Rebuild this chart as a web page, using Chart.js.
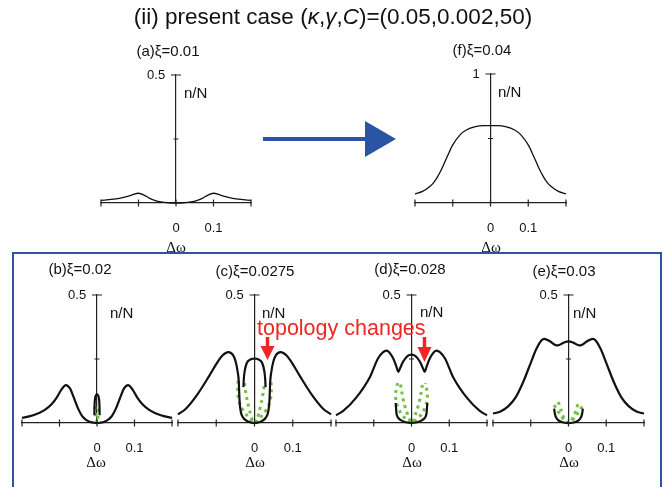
<!DOCTYPE html>
<html>
<head>
<meta charset="utf-8">
<script src="https://cdn.jsdelivr.net/npm/chart.js@4.4.1/dist/chart.umd.min.js"></script>
<style>
  html, body { margin: 0; padding: 0; background: #fff; }
  #page { position: relative; width: 666px; height: 487px; overflow: hidden; font-family: "Liberation Sans", Arial, sans-serif; color: #111; }
  #page canvas { position: absolute; left: 0; top: 0; }
  .lbl { position: absolute; white-space: nowrap; transform: translate(-50%, -50%); }
  .ttl { font-size: 15px; }
  .nn { font-size: 15px; transform: translate(0, -50%); }
  .dw { font-family: "Liberation Serif", "Times New Roman", serif; font-size: 15px; }
  #main { font-size: 22.5px; left: 333px; top: 17px; }
  #topo { font-size: 21.5px; color: #ee2626; left: 257px; top: 328px; transform: translate(0, -50%); }
  svg { position: absolute; left: 0; top: 0; }
</style>
</head>
<body>
<div id="page">
  <canvas id="pa" width="666" height="487"></canvas>
  <canvas id="pf" width="666" height="487"></canvas>
  <canvas id="pb" width="666" height="487"></canvas>
  <canvas id="pc" width="666" height="487"></canvas>
  <canvas id="pd" width="666" height="487"></canvas>
  <canvas id="pe" width="666" height="487"></canvas>

  <svg width="666" height="487">
    <!-- frame round the lower row -->
    <rect x="13" y="253" width="648" height="260" fill="none" stroke="#2a55a5" stroke-width="2"/>
    <!-- big arrow a -> f -->
    <line x1="263" y1="139" x2="367" y2="139" stroke="#2a55a5" stroke-width="4"/>
    <polygon points="365,121 396,139 365,157" fill="#2a55a5"/>
    <!-- red arrows -->
    <line x1="267.5" y1="337" x2="267.5" y2="348" stroke="#ee2626" stroke-width="3.5"/>
    <polygon points="260.5,346 274.5,346 267.5,360" fill="#ee2626"/>
    <line x1="424.5" y1="337" x2="424.5" y2="349" stroke="#ee2626" stroke-width="3.5"/>
    <polygon points="417.5,347 431.5,347 424.5,362" fill="#ee2626"/>
  </svg>

  <div class="lbl" id="main">(ii) present case (<i>κ</i>,<i>γ</i>,<i>C</i>)=(0.05,0.002,50)</div>

  <div class="lbl ttl" style="left:168px;top:50px">(a)ξ=0.01</div>
  <div class="lbl ttl" style="left:482px;top:49px">(f)ξ=0.04</div>
  <div class="lbl ttl" style="left:80px;top:268px">(b)ξ=0.02</div>
  <div class="lbl ttl" style="left:255px;top:270px">(c)ξ=0.0275</div>
  <div class="lbl ttl" style="left:410px;top:268px">(d)ξ=0.028</div>
  <div class="lbl ttl" style="left:564px;top:270px">(e)ξ=0.03</div>

  <div class="lbl nn" style="left:184px;top:92px">n/N</div>
  <div class="lbl nn" style="left:498px;top:91px">n/N</div>
  <div class="lbl nn" style="left:110px;top:312px">n/N</div>
  <div class="lbl nn" style="left:262px;top:312px">n/N</div>
  <div class="lbl nn" style="left:420px;top:311px">n/N</div>
  <div class="lbl nn" style="left:573px;top:312px">n/N</div>

  <div class="lbl dw" style="left:176px;top:247px">Δω</div>
  <div class="lbl dw" style="left:491px;top:247px">Δω</div>
  <div class="lbl dw" style="left:96px;top:462px">Δω</div>
  <div class="lbl dw" style="left:255px;top:462px">Δω</div>
  <div class="lbl dw" style="left:412px;top:462px">Δω</div>
  <div class="lbl dw" style="left:569px;top:462px">Δω</div>

  <div class="lbl" id="topo">topology changes</div>
</div>

<script>
/* ---------- data (Δω, n/N) ---------- */

// (a) ξ=0.01
const aX = [-0.2, -0.18, -0.16, -0.14, -0.12, -0.1, -0.085, -0.07, -0.055, -0.04, -0.02, 0, 0.02, 0.04, 0.055, 0.07, 0.085, 0.1, 0.12, 0.14, 0.16, 0.18, 0.2];
const aY = [0.01, 0.013, 0.016, 0.022, 0.03, 0.038, 0.031, 0.018, 0.009, 0.004, 0.001, 0, 0.001, 0.004, 0.009, 0.018, 0.031, 0.038, 0.03, 0.022, 0.016, 0.013, 0.01];

// (f) ξ=0.04
const fX = [-0.2, -0.18, -0.16, -0.15, -0.14, -0.13, -0.12, -0.11, -0.1, -0.08, -0.064, -0.04, -0.02, 0, 0.02, 0.04, 0.064, 0.08, 0.1, 0.11, 0.12, 0.13, 0.14, 0.15, 0.16, 0.18, 0.2];
const fY = [0.07, 0.09, 0.13, 0.16, 0.205, 0.26, 0.325, 0.39, 0.45, 0.53, 0.566, 0.592, 0.6, 0.6, 0.6, 0.592, 0.566, 0.53, 0.45, 0.39, 0.325, 0.26, 0.205, 0.16, 0.13, 0.09, 0.07];

// (b) ξ=0.02
const bX = [-0.2, -0.17, -0.14, -0.12, -0.107, -0.095, -0.083, -0.072, -0.062, -0.05, -0.04, -0.03, -0.018, -0.008, 0, 0.008, 0.018, 0.03, 0.04, 0.05, 0.062, 0.072, 0.083, 0.095, 0.107, 0.12, 0.14, 0.17, 0.2];
const bY = [0.02, 0.03, 0.05, 0.075, 0.1, 0.13, 0.148, 0.135, 0.1, 0.055, 0.028, 0.013, 0.004, 0.001, 0, 0.001, 0.004, 0.013, 0.028, 0.055, 0.1, 0.135, 0.148, 0.13, 0.1, 0.075, 0.05, 0.03, 0.02];
const bArchX = [-0.007, -0.0065, -0.005, -0.003, 0, 0.003, 0.005, 0.0065, 0.007];
const bArchY = [0.03, 0.07, 0.097, 0.108, 0.112, 0.108, 0.097, 0.07, 0.03];
const bGreenX = [-0.006, -0.004, -0.002, 0, 0.002, 0.004, 0.006];
const bGreenY = [0.065, 0.04, 0.018, 0, 0.018, 0.04, 0.065];

// (c) ξ=0.0275
const cX = [-0.2, -0.18, -0.15, -0.12, -0.1, -0.085, -0.068, -0.056, -0.049, -0.044, -0.041, -0.04, -0.039, -0.036, -0.03, -0.02, -0.01, 0, 0.01, 0.02, 0.03, 0.036, 0.039, 0.04, 0.041, 0.044, 0.049, 0.056, 0.068, 0.085, 0.1, 0.12, 0.15, 0.18, 0.2];
const cY = [0.034, 0.055, 0.11, 0.18, 0.23, 0.262, 0.277, 0.265, 0.238, 0.2, 0.16, 0.12, 0.085, 0.045, 0.022, 0.008, 0.002, 0, 0.002, 0.008, 0.022, 0.045, 0.085, 0.12, 0.16, 0.2, 0.238, 0.265, 0.277, 0.262, 0.23, 0.18, 0.11, 0.055, 0.034];
const cArchX = [-0.029, -0.028, -0.026, -0.02, -0.011, 0, 0.011, 0.02, 0.026, 0.028, 0.029];
const cArchY = [0.14, 0.17, 0.2, 0.235, 0.248, 0.252, 0.248, 0.235, 0.2, 0.17, 0.14];
const cGreenOutX = [-0.043, -0.044, -0.042, -0.035, -0.02, -0.007, 0, 0.007, 0.02, 0.035, 0.042, 0.044, 0.043];
const cGreenOutY = [0.165, 0.13, 0.095, 0.062, 0.03, 0.007, 0, 0.007, 0.03, 0.062, 0.095, 0.13, 0.165];
const cGreenInX = [-0.026, -0.023, -0.018, -0.013, -0.007, 0, 0.007, 0.013, 0.018, 0.023, 0.026];
const cGreenInY = [0.156, 0.12, 0.08, 0.05, 0.017, 0, 0.017, 0.05, 0.08, 0.12, 0.156];

// (d) ξ=0.028
const dX = [-0.2, -0.18, -0.146, -0.11, -0.088, -0.066, -0.049, -0.04, -0.035, -0.03, -0.022, -0.01, 0, 0.01, 0.022, 0.03, 0.035, 0.04, 0.049, 0.066, 0.088, 0.11, 0.146, 0.18, 0.2];
const dY = [0.03, 0.048, 0.1, 0.18, 0.254, 0.283, 0.254, 0.22, 0.2, 0.215, 0.24, 0.262, 0.267, 0.262, 0.24, 0.215, 0.2, 0.22, 0.254, 0.283, 0.254, 0.18, 0.1, 0.048, 0.03];
const dUX = [-0.042, -0.041, -0.04, -0.035, -0.027, -0.015, 0, 0.015, 0.027, 0.035, 0.04, 0.041, 0.042];
const dUY = [0.078, 0.06, 0.04, 0.02, 0.01, 0.003, 0, 0.003, 0.01, 0.02, 0.04, 0.06, 0.078];
const dGreenOutX = [-0.037, -0.042, -0.04, -0.029, -0.013, 0, 0.013, 0.029, 0.04, 0.042, 0.037];
const dGreenOutY = [0.156, 0.115, 0.08, 0.04, 0.013, 0, 0.013, 0.04, 0.08, 0.115, 0.156];
const dGreenInX = [-0.029, -0.025, -0.02, -0.013, -0.005, 0, 0.005, 0.013, 0.02, 0.025, 0.029];
const dGreenInY = [0.15, 0.115, 0.078, 0.045, 0.013, 0, 0.013, 0.045, 0.078, 0.115, 0.15];

// (e) ξ=0.03
const eX = [-0.2, -0.18, -0.16, -0.14, -0.12, -0.1, -0.085, -0.072, -0.064, -0.05, -0.035, -0.028, -0.015, 0, 0.015, 0.028, 0.035, 0.05, 0.064, 0.072, 0.085, 0.1, 0.12, 0.14, 0.16, 0.18, 0.2];
const eY = [0.037, 0.045, 0.065, 0.1, 0.16, 0.235, 0.29, 0.322, 0.329, 0.32, 0.305, 0.303, 0.312, 0.319, 0.312, 0.303, 0.305, 0.32, 0.329, 0.322, 0.29, 0.235, 0.16, 0.1, 0.065, 0.045, 0.037];
const eUX = [-0.038, -0.036, -0.03, -0.02, -0.01, 0, 0.01, 0.02, 0.03, 0.036, 0.038];
const eUY = [0.056, 0.035, 0.015, 0.005, 0.001, 0, 0.001, 0.005, 0.015, 0.035, 0.056];
const eGreen1X = [-0.038, -0.03, -0.02, -0.01, 0, 0.01, 0.02, 0.03, 0.038];
const eGreen1Y = [0.07, 0.05, 0.028, 0.01, 0, 0.01, 0.028, 0.05, 0.07];
const eGreen2X = [-0.027, -0.02, -0.014, -0.006, 0, 0.006, 0.014, 0.02, 0.027];
const eGreen2Y = [0.082, 0.052, 0.026, 0.008, 0, 0.008, 0.026, 0.052, 0.082];

// axis ranges / tick labels
const xRange = [-0.2, 0.2];
const xLabels = { '0': '0', '0.1': '0.1' };
const yMaxSmall = 0.5, yMaxLarge = 1;

/* ---------- helpers ---------- */
const BLACK = '#111111';
const GREEN = '#74bf45';

const pts = (xs, ys) => xs.map((x, i) => ({ x, y: ys[i] }));

const solid = (xs, ys, w) => ({
  data: pts(xs, ys), showLine: true, pointRadius: 0, borderColor: BLACK,
  borderWidth: w, cubicInterpolationMode: 'monotone', clip: 6, fill: false
});
const dotted = (xs, ys) => ({
  data: pts(xs, ys), showLine: true, pointRadius: 0, borderColor: GREEN,
  borderWidth: 3, borderDash: [3, 4], tension: 0.3, clip: 6, fill: false
});

// ticks that cross the axis lines, positioned by the chart's own scales
const crossTicks = {
  id: 'crossTicks',
  afterDatasetsDraw(chart) {
    const { ctx, scales: { x, y } } = chart;
    const x0 = x.getPixelForValue(0), y0 = y.getPixelForValue(0);
    ctx.save();
    ctx.strokeStyle = '#222';
    ctx.lineWidth = 1.2;
    ctx.beginPath();
    x.ticks.forEach(t => {
      const px = x.getPixelForValue(t.value);
      ctx.moveTo(px, y0 - 3.5); ctx.lineTo(px, y0 + 3.5);
    });
    y.ticks.forEach(t => {
      if (t.value === 0) return;
      const py = y.getPixelForValue(t.value);
      const h = t.value === y.max ? 5 : 2.5;
      ctx.moveTo(x0 - h, py); ctx.lineTo(x0 + h, py);
    });
    ctx.stroke();
    ctx.restore();
  }
};

function panel(id, area, yMax, datasets) {
  const [L, T, R, B] = area;   // chart area in page pixels
  new Chart(document.getElementById(id), {
    type: 'scatter',
    data: { datasets },
    plugins: [crossTicks],
    options: {
      responsive: false, animation: false, events: [],
      layout: { padding: { left: L, top: T, right: 666 - R, bottom: 487 - B } },
      plugins: { legend: { display: false }, tooltip: { enabled: false }, title: { display: false } },
      scales: {
        x: {
          type: 'linear', min: xRange[0], max: xRange[1], position: { y: 0 },
          grid: { drawOnChartArea: false, drawTicks: false },
          border: { color: '#222', width: 1.2 },
          ticks: {
            stepSize: 0.1, padding: 18, color: BLACK,
            font: { family: 'Liberation Sans', size: 13 },
            callback: v => xLabels[String(Math.round(v * 10) / 10)] || ''
          }
        },
        y: {
          type: 'linear', min: 0, max: yMax, position: { x: 0 },
          grid: { drawOnChartArea: false, drawTicks: false },
          border: { color: '#222', width: 1.2 },
          ticks: {
            stepSize: yMax / 2, padding: 10, color: BLACK,
            font: { family: 'Liberation Sans', size: 13 },
            callback: v => (v === yMax ? String(yMax) + '   ' : '')
          }
        }
      }
    }
  });
}

panel('pa', [101, 75, 251, 203], yMaxSmall, [solid(aX, aY, 1.3)]);
panel('pf', [415, 74, 566, 203], yMaxLarge, [solid(fX, fY, 1.3)]);
panel('pb', [22, 295, 172, 423], yMaxSmall, [
  solid(bX, bY, 2.2), solid(bArchX, bArchY, 2.2), dotted(bGreenX, bGreenY)
]);
panel('pc', [178, 295, 331, 423], yMaxSmall, [
  solid(cX, cY, 2.2), solid(cArchX, cArchY, 2.2),
  dotted(cGreenOutX, cGreenOutY), dotted(cGreenInX, cGreenInY)
]);
panel('pd', [336, 295, 487, 423], yMaxSmall, [
  solid(dX, dY, 2.2), solid(dUX, dUY, 2.2),
  dotted(dGreenOutX, dGreenOutY), dotted(dGreenInX, dGreenInY)
]);
panel('pe', [493, 295, 644, 423], yMaxSmall, [
  solid(eX, eY, 2.2), solid(eUX, eUY, 2.2),
  dotted(eGreen1X, eGreen1Y), dotted(eGreen2X, eGreen2Y)
]);
</script>
</body>
</html>
